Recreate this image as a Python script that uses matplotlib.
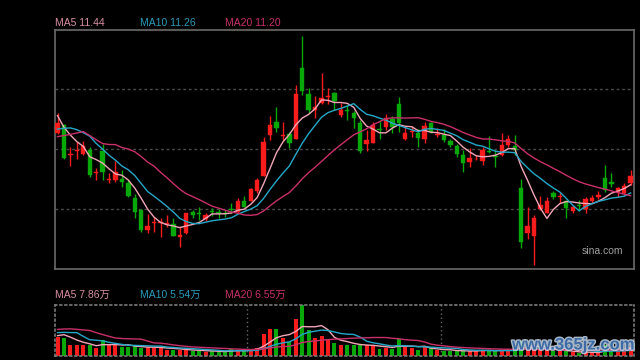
import numpy as np
import pandas as pd
import matplotlib
matplotlib.use("Agg")
import matplotlib.pyplot as plt
import matplotlib.patheffects as pe

# ---------------- data ----------------
opens = [12.61, 12.78, 12.10, 12.19, 12.13, 12.22, 11.70, 12.19, 11.54, 11.56,
         11.57, 11.48, 11.15, 10.89, 10.43, 10.59, 10.59, 10.56, 10.56, 10.28,
         10.37, 10.84, 10.81, 10.67, 10.85, 10.83, 10.81, 10.89, 10.84, 11.08,
         11.09, 11.30, 11.65, 12.56, 12.85, 12.54, 12.59, 12.48, 14.05, 13.48,
         13.12, 13.28, 13.41, 13.50, 13.01, 13.10, 13.06, 12.82, 12.36, 12.39,
         12.69, 12.74, 12.91, 13.25, 12.48, 12.62, 12.60, 12.48, 12.83, 12.55,
         12.56, 12.43, 12.31, 12.11, 11.96, 12.01, 11.98, 12.19, 12.08, 12.11,
         12.34, 12.31, 11.37, 10.37, 10.30, 10.90, 10.82, 11.25, 11.16, 11.07,
         10.86, 10.98, 10.90, 11.09, 11.16, 11.59, 11.51, 11.28, 11.25, 11.48]
highs = [13.05, 12.81, 12.30, 12.40, 12.43, 12.28, 11.81, 12.35, 11.71, 11.98,
         11.78, 11.55, 11.23, 10.90, 10.78, 10.73, 10.69, 10.77, 10.69, 10.52,
         10.82, 10.88, 10.94, 10.81, 10.92, 10.90, 10.89, 11.03, 11.14, 11.20,
         11.38, 11.59, 12.51, 12.99, 13.19, 12.84, 12.63, 13.68, 14.78, 13.61,
         13.43, 13.94, 13.61, 13.53, 13.27, 13.23, 13.10, 12.90, 12.67, 12.86,
         12.90, 13.02, 12.99, 13.40, 12.75, 12.75, 12.69, 12.86, 12.86, 12.71,
         12.69, 12.47, 12.36, 12.22, 12.26, 12.11, 12.30, 12.54, 12.22, 12.60,
         12.56, 12.56, 11.57, 10.94, 10.77, 11.19, 11.18, 11.31, 11.29, 11.10,
         10.99, 11.10, 11.16, 11.22, 11.31, 11.89, 11.70, 11.40, 11.49, 11.78]
lows = [12.59, 12.02, 11.87, 12.02, 12.11, 11.61, 11.55, 11.54, 11.49, 11.50,
        11.40, 11.16, 10.71, 10.39, 10.36, 10.39, 10.28, 10.51, 10.29, 10.06,
        10.35, 10.69, 10.66, 10.63, 10.75, 10.70, 10.73, 10.81, 10.82, 10.94,
        11.07, 11.25, 11.63, 12.45, 12.63, 12.45, 12.26, 12.46, 13.46, 13.06,
        12.93, 13.25, 13.25, 13.12, 12.96, 12.90, 12.71, 12.16, 12.19, 12.37,
        12.46, 12.67, 12.60, 12.63, 12.45, 12.51, 12.30, 12.37, 12.60, 12.51,
        12.41, 12.30, 12.07, 11.74, 11.85, 11.99, 11.89, 12.16, 11.84, 12.08,
        12.30, 12.11, 10.02, 10.22, 9.65, 10.88, 10.81, 11.12, 11.04, 10.71,
        10.82, 10.86, 10.82, 11.04, 11.13, 11.29, 11.40, 11.18, 11.22, 11.44]
closes = [12.82, 12.04, 12.13, 12.21, 12.32, 11.66, 11.72, 11.74, 11.57, 11.74,
          11.51, 11.19, 10.84, 10.43, 10.52, 10.61, 10.61, 10.57, 10.30, 10.33,
          10.81, 10.77, 10.79, 10.76, 10.83, 10.81, 10.79, 10.87, 11.07, 10.95,
          11.35, 11.55, 12.41, 12.78, 12.71, 12.56, 12.39, 13.48, 13.55, 13.12,
          13.19, 13.38, 13.43, 13.31, 13.12, 13.09, 12.94, 12.19, 12.45, 12.78,
          12.68, 12.93, 12.73, 12.83, 12.60, 12.63, 12.49, 12.75, 12.63, 12.56,
          12.45, 12.34, 12.13, 11.94, 12.04, 12.02, 12.22, 12.18, 12.07, 12.34,
          12.46, 12.22, 10.17, 10.52, 10.69, 10.99, 11.08, 11.18, 11.17, 10.92,
          10.94, 10.97, 11.12, 11.14, 11.22, 11.33, 11.46, 11.37, 11.42, 11.64]
# volume, in 万
volumes = [20.5, 18.7, 11.2, 11.2, 11.2, 12.0, 8.2, 16.8, 11.2, 12.0,
           9.3, 9.3, 10.1, 8.2, 9.3, 8.6, 8.6, 6.4, 6.4, 6.4,
           5.6, 5.3, 5.3, 3.7, 5.3, 3.7, 3.7, 7.5, 6.4, 5.0,
           7.5, 8.6, 23.2, 29.1, 29.1, 18.7, 14.9, 40.3, 56.0, 28.0,
           18.7, 21.3, 17.6, 14.2, 12.0, 11.2, 11.8, 11.2, 11.2, 10.4,
           7.3, 8.2, 7.1, 18.5, 9.3, 8.4, 5.6, 9.0, 7.8, 5.6,
           4.5, 4.5, 4.8, 6.4, 4.5, 4.8, 6.4, 5.6, 5.6, 5.6,
           5.6, 5.6, 15.7, 10.1, 11.2, 6.7, 6.7, 5.0, 4.5, 4.5,
           3.4, 2.8, 3.9, 2.8, 3.4, 11.2, 6.7, 5.6, 6.7, 9.0]
# sessions before the visible window (needed for the moving averages)
prior_closes = [11.55, 11.64, 11.55, 11.69, 13.46, 13.57, 13.46, 12.00, 11.78, 12.81,
                11.89, 12.04, 12.60, 12.99, 12.45, 13.34, 13.01, 12.94, 12.85]
prior_volumes = [9.0, 7.8, 22.4, 24.6, 23.5, 56.0, 58.2, 50.4, 49.3, 20.2,
                 15.7, 13.4, 12.3, 51.5, 49.3, 13.4, 24.6, 26.9, 23.5]
month_starts = [30, 60]

ma_windows = [5, 10, 20]
price_labels = ['MA5 11.44', 'MA10 11.26', 'MA20 11.20']
volume_labels = ['MA5 7.86万', 'MA10 5.54万', 'MA20 6.55万']

# ---------------- style ----------------
RED = '#f81c1c'
GREEN = '#08a808'
ma_line_colors = ['#f2a6b8', '#25a8c8', '#c8306a']
ma_text_colors = ['#d88ea2', '#2a9ab8', '#c8306a']
FONT = ['Liberation Sans', 'Noto Sans CJK SC', 'DejaVu Sans']
plt.rcParams['font.family'] = FONT

n = len(closes)
x = np.arange(n)
o = np.array(opens); h = np.array(highs); l = np.array(lows); c = np.array(closes)
v = np.array(volumes)
up = c >= o
cols = np.where(up, RED, GREEN)


def sma(prior, vals, w):
    s = pd.Series(list(prior) + list(vals)).rolling(w, min_periods=1).mean()
    return s.values[-len(vals):]


fig = plt.figure(figsize=(6.4, 3.6), dpi=100, facecolor='black')
W, H = 640.0, 360.0
ax = fig.add_axes([55 / W, 1 - 268.5 / H, 579 / W, 239 / H], facecolor='black')
axv = fig.add_axes([55 / W, 1 - 355.5 / H, 579 / W, 51 / H], facecolor='black')

xlim = (-0.39, 89.52)

# ---- price panel ----
ylim = (9.57, 14.92)
for gy in np.linspace(ylim[0], ylim[1], 5)[1:-1]:
    ax.axhline(gy, color='#4a4a4a', lw=1.0, ls=(0, (2, 2)), zorder=0)

ax.vlines(x, l, h, colors=cols, lw=1.0, zorder=2)
body_bottom = np.minimum(o, c)
body_h = np.maximum(np.abs(c - o), 0.022)
ax.bar(x, body_h, bottom=body_bottom, width=0.68, color=cols, edgecolor=cols,
       lw=0.3, zorder=3)

for w, col in zip(ma_windows, ma_line_colors):
    ax.plot(x, sma(prior_closes, closes, w), color=col, lw=1.0, zorder=4)

ax.set_xlim(*xlim)
ax.set_ylim(*ylim)
ax.set_xticks([]); ax.set_yticks([])
for s in ax.spines.values():
    s.set_color('#6a6a6a'); s.set_linewidth(1.2)

ax.text(0.982, 0.075, 'sina.com', transform=ax.transAxes, ha='right', va='center',
        color='#a0a0a0', fontsize=7.5)

# ---- volume panel ----
axv.bar(x, v, width=0.62, color=cols, zorder=2)
for w, col in zip(ma_windows, ma_line_colors):
    axv.plot(x, sma(prior_volumes, volumes, w), color=col, lw=1.0, zorder=3)
for m in month_starts:
    axv.axvline(m - 0.5, color='#6a6a6a', lw=1.0, ls=(0, (1, 2)), zorder=1)
axv.set_xlim(*xlim)
axv.set_ylim(0, v.max())
axv.set_xticks([]); axv.set_yticks([])
for s in axv.spines.values():
    s.set_color('#7a7a7a'); s.set_linewidth(1.2); s.set_linestyle((0, (1, 2)))

# ---- legends ----
label_x = [55, 140, 225]
for lx, t, col in zip(label_x, price_labels, ma_text_colors):
    fig.text(lx / W, 1 - 23.5 / H, t, color=col, fontsize=7.5, va='center', ha='left')
for lx, t, col in zip(label_x, volume_labels, ma_text_colors):
    fig.text(lx / W, 1 - 295 / H, t, color=col, fontsize=7.5, va='center', ha='left')

# ---- site watermark ----
fig.text(634 / W, 1 - 345 / H, 'www.365jz.com', color='#2a5c9c', fontsize=12,
         fontweight='bold', ha='right', va='center', alpha=0.85,
         path_effects=[pe.withStroke(linewidth=2.0, foreground='#c8d8e8')])

fig.savefig('out.png', dpi=100, facecolor='black')
